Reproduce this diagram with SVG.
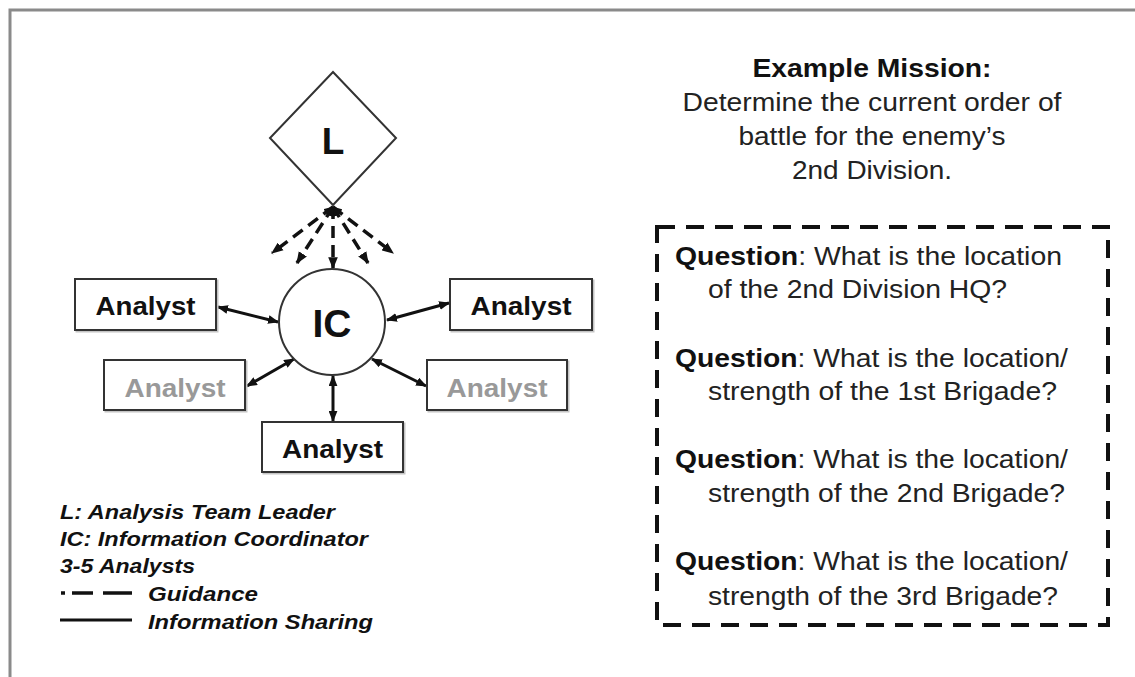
<svg xmlns="http://www.w3.org/2000/svg" width="1135" height="677" viewBox="0 0 1135 677">
<defs>
<marker id="ah" viewBox="0 0 10 8" refX="9" refY="4" markerUnits="userSpaceOnUse" markerWidth="11" markerHeight="9" orient="auto-start-reverse"><path d="M0,0 L10,4 L0,8 z" fill="#111"/></marker>
<marker id="gh" viewBox="0 0 10 8" refX="9" refY="4" markerUnits="userSpaceOnUse" markerWidth="12" markerHeight="10" orient="auto"><path d="M0,0 L10,4 L0,8 z" fill="#111"/></marker>
<marker id="gs" viewBox="0 0 10 8" refX="9" refY="4" markerUnits="userSpaceOnUse" markerWidth="10" markerHeight="8" orient="auto-start-reverse"><path d="M0,0 L10,4 L0,8 z" fill="#111"/></marker>
</defs>
<style>
.t{font-family:"Liberation Sans",Arial,sans-serif;fill:#111}
.b{font-weight:bold}
.box{fill:#fff;stroke:#333;stroke-width:2}
.sh{fill:none;stroke:#c4c4c4;stroke-width:2}
.an{font-family:"Liberation Sans",Arial,sans-serif;font-weight:bold;font-size:26px;text-anchor:middle}
.info{fill:none;stroke:#111;stroke-width:3;marker-start:url(#ah);marker-end:url(#ah)}
.guide{fill:none;stroke:#111;stroke-width:3.5;stroke-dasharray:12 7;marker-start:url(#gs);marker-end:url(#gh)}
.leg{font-family:"Liberation Sans",Arial,sans-serif;font-weight:bold;font-style:italic;font-size:21px;fill:#111}
.q{font-family:"Liberation Sans",Arial,sans-serif;font-size:25px;fill:#222}
</style>
<rect width="1135" height="677" fill="#fff"/>
<path d="M10,677 L10,10 L1135,10" fill="none" stroke="#8a8a8a" stroke-width="3"/>

<g id="connectors">
<line class="guide" x1="333" y1="207" x2="272" y2="253"/>
<line class="guide" x1="333" y1="207" x2="297" y2="263"/>
<line class="guide" x1="333" y1="207" x2="333" y2="268"/>
<line class="guide" x1="333" y1="207" x2="368" y2="263"/>
<line class="guide" x1="333" y1="207" x2="393" y2="253"/>
<line class="info" x1="218" y1="307" x2="278" y2="322"/>
<line class="info" x1="247" y1="386" x2="294" y2="359"/>
<line class="info" x1="333" y1="376" x2="333" y2="421"/>
<line class="info" x1="387" y1="320" x2="449" y2="303"/>
<line class="info" x1="372" y1="359" x2="426" y2="386"/>
</g>

<g id="node-L">
<polygon points="333,72 396,138 333,205 270,138" fill="#fff" stroke="#333" stroke-width="2"/>
<text class="t b" x="333" y="154" font-size="37" text-anchor="middle">L</text>
</g>

<g id="node-IC">
<circle cx="332" cy="322" r="53" fill="#fff" stroke="#333" stroke-width="2"/>
<text class="t b" x="332" y="337" font-size="39" text-anchor="middle">IC</text>
</g>

<g id="analyst-tl">
<rect class="sh" x="76.5" y="280.5" width="141" height="51"/>
<rect class="box" x="75" y="279" width="141" height="51"/>
<text class="an" x="145.5" y="315" fill="#111" textLength="100" lengthAdjust="spacingAndGlyphs">Analyst</text>
</g>
<g id="analyst-ml">
<rect class="sh" x="105.5" y="361.5" width="141" height="50"/>
<rect class="box" x="104" y="360" width="141" height="50"/>
<text class="an" x="175" y="397" fill="#999" textLength="101" lengthAdjust="spacingAndGlyphs">Analyst</text>
</g>
<g id="analyst-b">
<rect class="sh" x="263.5" y="423.5" width="141" height="50"/>
<rect class="box" x="262" y="422" width="141" height="50"/>
<text class="an" x="332.5" y="458" fill="#111" textLength="101" lengthAdjust="spacingAndGlyphs">Analyst</text>
</g>
<g id="analyst-tr">
<rect class="sh" x="451.5" y="280.5" width="142" height="51"/>
<rect class="box" x="450" y="279" width="142" height="51"/>
<text class="an" x="521" y="315" fill="#111" textLength="101" lengthAdjust="spacingAndGlyphs">Analyst</text>
</g>
<g id="analyst-mr">
<rect class="sh" x="428.5" y="361.5" width="140" height="50"/>
<rect class="box" x="427" y="360" width="140" height="50"/>
<text class="an" x="497" y="397" fill="#999" textLength="101" lengthAdjust="spacingAndGlyphs">Analyst</text>
</g>

<g id="legend">
<text class="leg" x="60" y="519" textLength="275" lengthAdjust="spacingAndGlyphs">L: Analysis Team Leader</text>
<text class="leg" x="60" y="546" textLength="308" lengthAdjust="spacingAndGlyphs">IC: Information Coordinator</text>
<text class="leg" x="60" y="573" textLength="135" lengthAdjust="spacingAndGlyphs">3-5 Analysts</text>
<path d="M61,593 H65 M72,593 H93 M103,593 H132" stroke="#111" stroke-width="3.5" fill="none"/>
<text class="leg" x="148" y="601" textLength="110" lengthAdjust="spacingAndGlyphs">Guidance</text>
<line x1="60" y1="620" x2="132" y2="620" stroke="#111" stroke-width="3"/>
<text class="leg" x="148" y="629" textLength="225" lengthAdjust="spacingAndGlyphs">Information Sharing</text>
</g>

<g id="mission">
<text class="t b" x="872" y="77" font-size="25" text-anchor="middle" textLength="239" lengthAdjust="spacingAndGlyphs">Example Mission:</text>
<text class="q" x="872" y="111" text-anchor="middle" textLength="379" lengthAdjust="spacingAndGlyphs">Determine the current order of</text>
<text class="q" x="872" y="145" text-anchor="middle" textLength="267" lengthAdjust="spacingAndGlyphs">battle for the enemy’s</text>
<text class="q" x="872" y="179" text-anchor="middle" textLength="160" lengthAdjust="spacingAndGlyphs">2nd Division.</text>
</g>

<g id="questions">
<rect x="657" y="227" width="451" height="398" fill="none" stroke="#111" stroke-width="4" stroke-dasharray="18 11"/>
<text class="q" x="675" y="265" textLength="387" lengthAdjust="spacingAndGlyphs"><tspan font-weight="bold" fill="#111">Question</tspan>: What is the location</text>
<text class="q" x="708" y="298" textLength="299" lengthAdjust="spacingAndGlyphs">of the 2nd Division HQ?</text>
<text class="q" x="675" y="367" textLength="393" lengthAdjust="spacingAndGlyphs"><tspan font-weight="bold" fill="#111">Question</tspan>: What is the location/</text>
<text class="q" x="708" y="400" textLength="349" lengthAdjust="spacingAndGlyphs">strength of the 1st Brigade?</text>
<text class="q" x="675" y="468" textLength="393" lengthAdjust="spacingAndGlyphs"><tspan font-weight="bold" fill="#111">Question</tspan>: What is the location/</text>
<text class="q" x="708" y="502" textLength="357" lengthAdjust="spacingAndGlyphs">strength of the 2nd Brigade?</text>
<text class="q" x="675" y="570" textLength="393" lengthAdjust="spacingAndGlyphs"><tspan font-weight="bold" fill="#111">Question</tspan>: What is the location/</text>
<text class="q" x="708" y="605" textLength="350" lengthAdjust="spacingAndGlyphs">strength of the 3rd Brigade?</text>
</g>
</svg>
